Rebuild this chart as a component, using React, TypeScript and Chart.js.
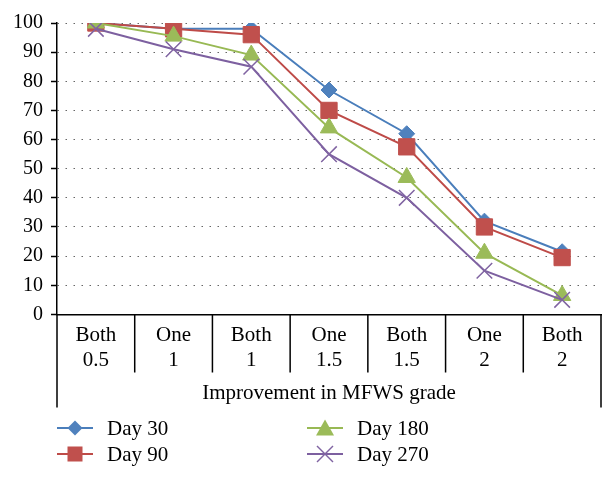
import React, { useEffect, useRef } from 'react';
import { Chart, registerables } from 'chart.js';

Chart.register(...registerables);

// ---- data ----
const categories: string[][] = [
  ['Both', '0.5'],
  ['One', '1'],
  ['Both', '1'],
  ['One', '1.5'],
  ['Both', '1.5'],
  ['One', '2'],
  ['Both', '2'],
];
const seriesNames = ['Day 30', 'Day 90', 'Day 180', 'Day 270'];
const day30 = [100, 98, 98, 77, 62, 32, 21.5];
const day90 = [100, 98, 96, 70, 57.5, 30, 19.5];
const day180 = [100, 95.5, 89, 64, 47, 21, 6.5];
const day270 = [98, 91, 85, 55, 40, 15, 5];
const yMin = 0;
const yMax = 100;
const yStep = 10;
const xTitle = 'Improvement in MFWS grade';

// ---- styles ----
const FONT = '"Liberation Serif", "Times New Roman", serif';
const lineColors = ['#4A7EBB', '#BE4B48', '#98B954', '#7D60A0'];
const fillColors = ['#4F81BD', '#C0504D', '#9BBB59', '#8064A2'];
const pointStyles = ['rectRot', 'rect', 'triangle', 'crossRot'];
const pointRadii = [8, 11.5, 10, 11];

const tableLines = {
  id: 'tableLines',
  afterDraw(chart: any) {
    const { ctx, chartArea } = chart;
    const xs = chart.scales.x;
    const n = categories.length;
    const b = chartArea.bottom;
    ctx.save();
    ctx.strokeStyle = '#000';
    ctx.lineWidth = 1.5;
    ctx.beginPath();
    for (let i = 1; i < n; i++) {
      const px = xs.getPixelForValue(i - 0.5);
      ctx.moveTo(px, b);
      ctx.lineTo(px, b + 58);
    }
    ctx.moveTo(chartArea.left, b);
    ctx.lineTo(chartArea.left, b + 93);
    ctx.moveTo(chartArea.right, b);
    ctx.lineTo(chartArea.right, b + 93);
    ctx.stroke();
    ctx.restore();
  },
};

function LegendMarker({ idx }: { idx: number }) {
  const lc = lineColors[idx];
  const fc = fillColors[idx];
  let m: any = null;
  if (idx === 0) m = <polygon points="18,5.5 25.5,13 18,20.5 10.5,13" fill={fc} />;
  if (idx === 1) m = <rect x={10.5} y={5.5} width={15} height={15} fill={fc} />;
  if (idx === 2) m = <polygon points="18,4.5 27,20.5 9,20.5" fill={fc} />;
  if (idx === 3)
    m = (
      <g stroke={fc} strokeWidth={1.5}>
        <line x1={10} y1={5} x2={26} y2={21} />
        <line x1={26} y1={5} x2={10} y2={21} />
      </g>
    );
  return (
    <svg width={36} height={26} style={{ display: 'block' }}>
      <line x1={0} y1={13} x2={36} y2={13} stroke={lc} strokeWidth={2} />
      {m}
    </svg>
  );
}

export default function App() {
  const ref = useRef<HTMLCanvasElement | null>(null);

  useEffect(() => {
    if (!ref.current) return;
    const all = [day30, day90, day180, day270];
    const chart = new Chart(ref.current, {
      type: 'line',
      data: {
        labels: categories,
        datasets: all.map((d, i) => ({
          label: seriesNames[i],
          data: d,
          borderColor: lineColors[i],
          backgroundColor: fillColors[i],
          borderWidth: 2,
          pointStyle: pointStyles[i] as any,
          pointRadius: pointRadii[i],
          pointBackgroundColor: fillColors[i],
          pointBorderColor: fillColors[i],
          pointBorderWidth: i === 3 ? 1.5 : 1,
          tension: 0,
          fill: false,
          order: 4 - i,
        })),
      },
      options: {
        animation: false,
        responsive: false,
        devicePixelRatio: 1,
        layout: { padding: { top: 23, right: 14, bottom: 70, left: 0 } },
        plugins: {
          legend: { display: false },
          tooltip: { enabled: false },
        },
        scales: {
          x: {
            type: 'category',
            offset: true,
            grid: { display: false, drawTicks: false },
            border: { display: true, color: '#000', width: 1.5 },
            ticks: {
              color: '#000',
              font: { family: FONT, size: 21, lineHeight: 1.2 },
              padding: 8,
              maxRotation: 0,
              autoSkip: false,
            },
            title: {
              display: true,
              text: xTitle,
              color: '#000',
              font: { family: FONT, size: 21, lineHeight: 1.2 },
              padding: { top: 0, bottom: 4 },
            },
          },
          y: {
            min: yMin,
            max: yMax,
            afterFit: (s: any) => {
              s.width = 57;
            },
            ticks: {
              stepSize: yStep,
              color: '#000',
              font: { family: FONT, size: 20 },
              padding: 8,
            },
            grid: {
              color: (c: any) => (c.tick && c.tick.value === 0 ? 'rgba(0,0,0,0)' : '#666'),
              lineWidth: 1,
              tickColor: '#000',
              tickLength: 6,
              tickWidth: 1.5,
              tickBorderDash: [],
            },
            border: { display: true, color: '#000', width: 1.5, dash: [1.5, 6.5] },
          },
        },
      } as any,
      plugins: [tableLines],
    });
    return () => chart.destroy();
  }, []);

  const legendPos = [
    { left: 57, top: 415 },
    { left: 57, top: 441 },
    { left: 307, top: 415 },
    { left: 307, top: 441 },
  ];

  return (
    <div style={{ position: 'absolute', left: 0, top: 0, width: 615, height: 480, background: '#fff' }}>
      <canvas ref={ref} width={615} height={480} style={{ display: 'block' }} />
      {seriesNames.map((name, i) => (
        <div
          key={name}
          style={{
            position: 'absolute',
            left: legendPos[i].left,
            top: legendPos[i].top,
            height: 26,
            display: 'flex',
            alignItems: 'center',
            fontFamily: FONT,
            fontSize: 21,
            color: '#000',
            whiteSpace: 'nowrap',
          }}
        >
          <LegendMarker idx={i} />
          <span style={{ marginLeft: 14, lineHeight: '26px' }}>{name}</span>
        </div>
      ))}
    </div>
  );
}
